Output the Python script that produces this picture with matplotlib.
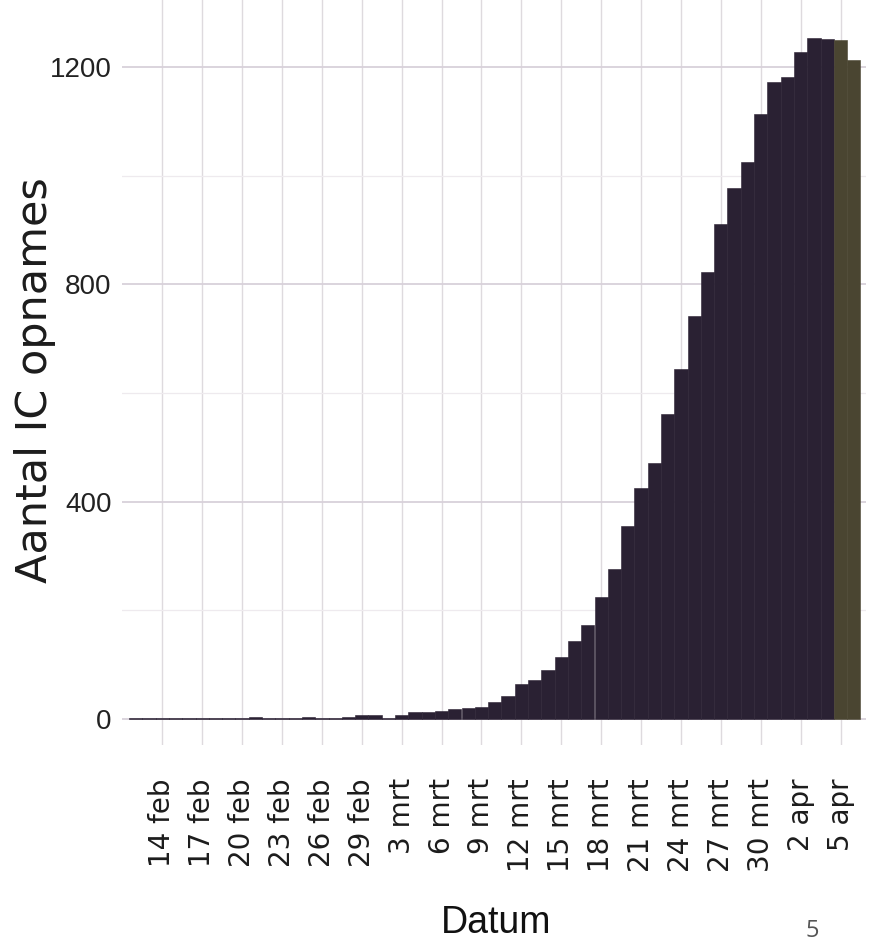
import matplotlib
matplotlib.use("Agg")
import matplotlib.pyplot as plt
import pandas as pd

# ---- data ----
dates = pd.date_range("2020-02-12", "2020-04-06", freq="D")
ic_opnames = [2, 1, 1, 1, 1, 1, 1, 1, 1, 3,
              1, 1, 1, 3, 1, 1, 4, 7, 7, 1,
              7, 12, 13, 15, 18, 21, 23, 32, 42, 64,
              72, 91, 115, 143, 173, 225, 277, 356, 425, 471,
              561, 644, 741, 822, 911, 978, 1026, 1113, 1172, 1181,
              1227, 1254, 1252, 1249, 1213]
onvolledig_vanaf = pd.Timestamp("2020-04-05")   # last days drawn in a different colour
tick_dates = pd.date_range("2020-02-14", "2020-04-05", freq="3D")
month_nl = {2: "feb", 3: "mrt", 4: "apr"}
tick_labels = [f"{d.day} {month_nl[d.month]}" for d in tick_dates]
y_ticks = [0, 400, 800, 1200]
y_minor = [200, 600, 1000]

# ---- figure ----
W, H = 869, 952
fig = plt.figure(figsize=(W / 100, H / 100), dpi=100, facecolor="white")
ax = fig.add_axes([122 / W, 1 - 745 / H, (866 - 122) / W, 745 / H])
ax.set_facecolor("white")

x = list(range(len(dates)))
colors = ["#4a4531" if d >= onvolledig_vanaf else "#2a2133" for d in dates]
ax.bar(x, ic_opnames, width=1.0, color=colors, edgecolor=colors,
       linewidth=0.4, zorder=3)

# scales
px_per_bar = 13.3
ax.set_xlim((122 - 129) / px_per_bar - 0.5, (866 - 129) / px_per_bar - 0.5)
ax.set_ylim((719 - 745) / 0.5433, 719 / 0.5433)

tick_pos = [int((d - dates[0]).days) for d in tick_dates]
ax.set_xticks(tick_pos)
ax.set_xticklabels(tick_labels, rotation=90, fontsize=20,
                   family="DejaVu Sans", color="#1c1c1c")
ax.set_yticks(y_ticks)
ax.set_yticks(y_minor, minor=True)
ax.set_yticklabels([str(v) for v in y_ticks], fontsize=20,
                   family="Liberation Sans", color="#222222")
ax.tick_params(axis="x", length=0, pad=23.8)
ax.tick_params(axis="y", which="both", length=0, pad=7.5)

ax.grid(axis="x", color="#dedade", linewidth=1.0, zorder=0)
ax.grid(axis="y", which="major", color="#d8d1da", linewidth=1.3, zorder=0)
ax.grid(axis="y", which="minor", color="#eeeaee", linewidth=0.9, zorder=0)
for s in ax.spines.values():
    s.set_visible(False)

# labels
fig.text(35 / W, 1 - 380 / H, "Aantal IC opnames", rotation=90,
         ha="center", va="center", fontsize=31, family="DejaVu Sans", color="#1c1c1c")
fig.text(496 / W, 1 - 923 / H, "Datum", ha="center", va="center",
         fontsize=27, family="Liberation Sans", color="#111111")
fig.text(812 / W, 1 - 931 / H, "5", ha="center", va="center",
         fontsize=17, family="Open Sans", color="#555555")

fig.savefig("out.png", dpi=100, facecolor="white")
